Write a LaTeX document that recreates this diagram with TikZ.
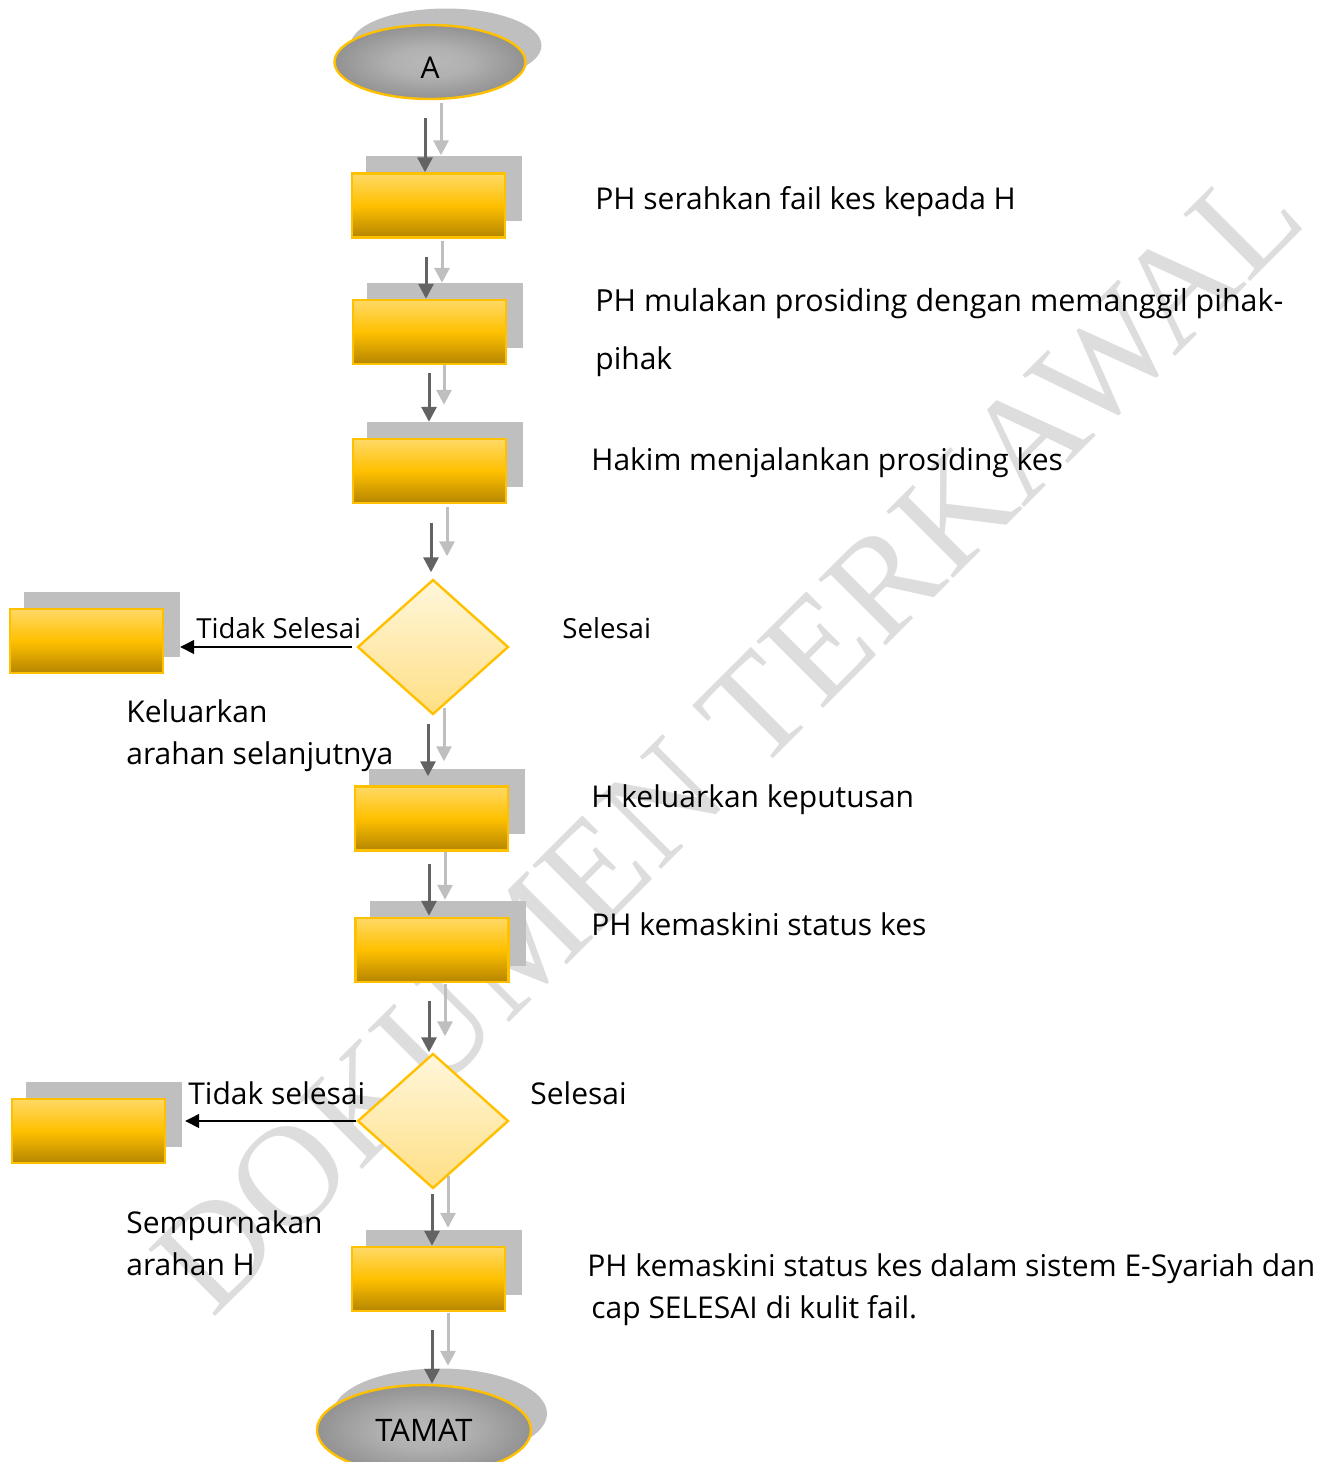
\documentclass[tikz,border=0pt]{standalone}
\usepackage{fontspec}
\setmainfont{Open Sans}
\newfontfamily\wmfont{Liberation Serif}
\usetikzlibrary{shapes.geometric,arrows.meta,calc,shadows}
\definecolor{gold}{HTML}{FFC000}
\definecolor{ylight}{HTML}{FFD966}
\definecolor{ydark}{HTML}{B58500}
\definecolor{shgray}{HTML}{BFBFBF}
\definecolor{darkarr}{HTML}{636363}
\definecolor{dlight}{HTML}{FFF7DC}
\definecolor{dbottom}{HTML}{FFDF84}
\definecolor{ellin}{HTML}{B8B8B8}
\definecolor{ellout}{HTML}{5F5F5F}
\definecolor{wmgray}{HTML}{DDDDDD}
\pgfdeclareradialshading{ellshade}{\pgfpoint{0bp}{0bp}}{color(0bp)=(ellin); color(10bp)=(ellin!92!ellout); color(50bp)=(ellout)}
\pgfdeclarelayer{wm}
\pgfdeclarelayer{bg}
\pgfsetlayers{wm,bg,main}
\begin{document}
\begin{tikzpicture}[x=0.5pt,y=-0.5pt,
  term/.style={ellipse, minimum width=95.5pt, minimum height=37pt, inner sep=0pt,
    draw=gold, line width=1.2pt, shading=ellshade,
    font=\fontsize{15pt}{18pt}\selectfont,
    general shadow={fill=shgray, shadow xshift=8pt, shadow yshift=8.25pt}},
  procbox/.style={rectangle, minimum width=76.5pt, minimum height=32pt, inner sep=0pt,
    draw=gold, line width=1.2pt, top color=ylight, bottom color=ydark, middle color=gold,
    general shadow={fill=shgray, shadow xshift=7.75pt, shadow yshift=8.25pt, shadow scale=1.02}},
  decision/.style={diamond, minimum width=75.5pt, minimum height=67.5pt, inner sep=0pt,
    draw=gold, line width=1.2pt, top color=dlight, bottom color=dbottom},
  darr/.style={draw=darkarr, line width=1.5pt, -{Triangle[width=7.5pt,length=7.5pt]}},
  larr/.style={draw=shgray, line width=1.5pt, -{Triangle[width=7.5pt,length=7.5pt]}},
  blkarr/.style={draw=black, line width=0.65pt, -{Triangle[width=7pt,length=7pt]}},
  lbl/.style={anchor=base west, inner sep=0pt, font=\fontsize{15pt}{21pt}\selectfont},
  slbl/.style={anchor=base west, inner sep=0pt, font=\fontsize{13.8pt}{18pt}\selectfont}
]
\useasboundingbox (0,0) rectangle (1329,1462);
\clip (0,0) rectangle (1329,1462);

% nodes
\node[term, text height=16.8pt, text depth=0pt] (A) at (430,62) {A};
\node[procbox] (b1) at (428.5,205.5) {};
\node[procbox] (b2) at (429.5,332) {};
\node[procbox] (b3) at (429.5,471) {};
\node[decision] (d1) at (433,647) {};
\node[procbox] (L1) at (86.5,641) {};
\node[procbox] (b4) at (431.5,818.5) {};
\node[procbox] (b5) at (432,950) {};
\node[decision] (d2) at (433,1121) {};
\node[procbox] (L2) at (88.5,1131) {};
\node[procbox] (b6) at (428.5,1279) {};
\node[term, minimum width=107pt, minimum height=45pt, font=\fontsize{15.5pt}{18pt}\selectfont] (T) at (424,1430) {TAMAT};

% watermark
\begin{pgfonlayer}{wm}
\node[rotate=45, text=wmgray, inner sep=0pt, font=\wmfont\fontsize{72pt}{72pt}\selectfont] (wmark) at (728,738) {DOKUMEN TERKAWAL};
\end{pgfonlayer}

% light (shadow) arrows
\begin{pgfonlayer}{bg}
\draw[larr] ($(A.south)+(11,3)$) -- ($(b1.north)+(12.5,-17)$);
\draw[larr] ($(b1.south)+(13.5,2)$) -- ($(b2.north)+(12.5,-16)$);
\draw[larr] ($(b2.south)+(14.5,-7)$) -- ($(b3.north)+(14.5,-33)$);
\draw[larr] ($(b3.south)+(17.5,3)$) -- ($(d1.north)+(14,-22)$);
\draw[larr] ($(d1.south)+(11,-8)$) -- ($(b4.north)+(12.5,-24)$);
\draw[larr] ($(b4.south)+(13.5,-4)$) -- ($(b5.north)+(13,-17)$);
\draw[larr] ($(b5.south)+(13,1)$) -- ($(d2.north)+(12,-16)$);
\draw[larr] ($(d2.south)+(15,-14)$) -- ($(b6.north)+(19.5,-18)$);
\draw[larr] ($(b6.south)+(19.5,1)$) -- ($(T.north)+(24,-18)$);
\end{pgfonlayer}

% dark arrows
\draw[darr] ($(A.south)+(-5,18)$) -- ($(b1.north)+(-3.5,0)$);
\draw[darr] ($(b1.south)+(-2.5,18)$) -- ($(b2.north)+(-3.5,0)$);
\draw[darr] ($(b2.south)+(-0.5,8)$) -- ($(b3.north)+(-0.5,-16)$);
\draw[darr] ($(b3.south)+(1.5,19)$) -- ($(d1.north)+(-2,-6)$);
\draw[darr] ($(d1.south)+(-5,8)$) -- ($(b4.north)+(-3.5,-9)$);
\draw[darr] ($(b4.south)+(-2.5,12)$) -- ($(b5.north)+(-3,-1)$);
\draw[darr] ($(b5.south)+(-3,18)$) -- ($(d2.north)+(-4,0)$);
\draw[darr] ($(d2.south)+(-1,4)$) -- ($(b6.north)+(3.5,0)$);
\draw[darr] ($(b6.south)+(3.5,18)$) -- ($(T.north)+(8,0)$);

% side arrows
\coordinate (e1) at ($(L1.east)+(16,0)$);
\coordinate (e2) at ($(L2.east)+(19,0)$);
\draw[blkarr] ($(d1.west)+(-4,0)$) -- (e1 |- d1.west);
\draw[blkarr] (d2.west) -- (e2 |- d2.west);

% labels
\node[slbl] (ts1) at (196,638) {Tidak Selesai};
\node[slbl] (s1) at (562,638) {Selesai};
\node[lbl] (k1) at (126,722) {Keluarkan};
\node[lbl] (k2) at (126,764) {arahan selanjutnya};
\node[lbl] (ts2) at (188,1104) {Tidak selesai};
\node[lbl] (s2) at (530,1104) {Selesai};
\node[lbl] (sp1) at (126,1233) {Sempurnakan};
\node[lbl] (sp2) at (126,1275) {arahan H};

\node[lbl] (r1) at (595,209) {PH serahkan fail kes kepada H};
\node[lbl, font=\fontsize{15.2pt}{21pt}\selectfont] (r2a) at (595,311) {PH mulakan prosiding dengan memanggil pihak-};
\node[lbl] (r2b) at (595,369) {pihak};
\node[lbl] (r3) at (591,470) {Hakim menjalankan prosiding kes};
\node[lbl] (r4) at (591,807) {H keluarkan keputusan};
\node[lbl] (r5) at (591,935) {PH kemaskini status kes};
\node[lbl] (r6a) at (587,1276) {PH kemaskini status kes dalam sistem E-Syariah dan};
\node[lbl] (r6b) at (591,1318) {cap SELESAI di kulit fail.};
\end{tikzpicture}
\end{document}
